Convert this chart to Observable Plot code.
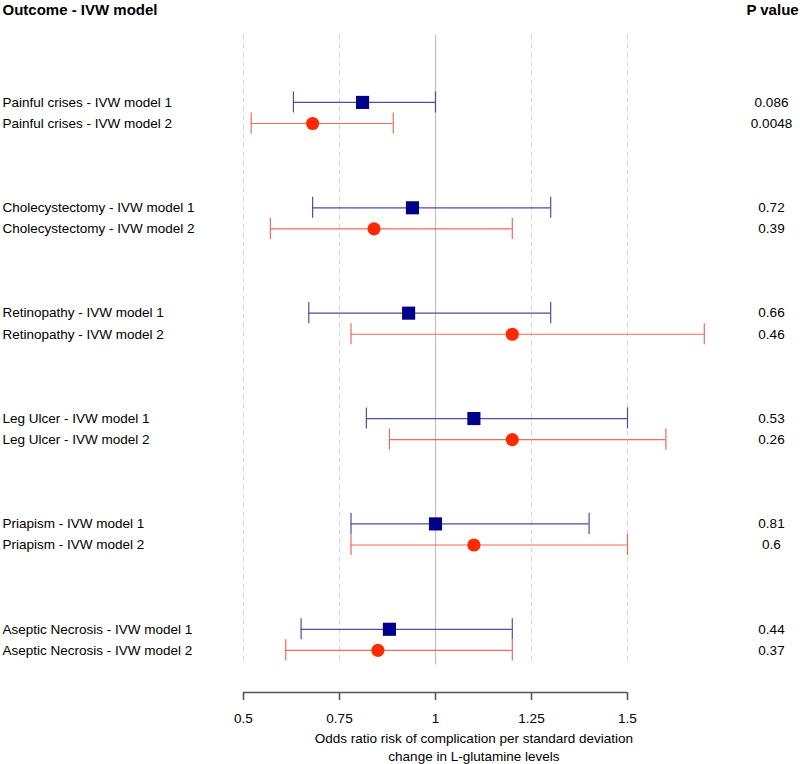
<!DOCTYPE html>
<html>
<head>
<meta charset="utf-8">
<script src="https://cdn.jsdelivr.net/npm/d3@7"></script>
<script src="https://cdn.jsdelivr.net/npm/@observablehq/plot@0.6"></script>
<style>
  html, body { margin: 0; padding: 0; background: #fff; }
  svg { display: block; }
</style>
</head>
<body>
<div id="chart"></div>
<script>
const outcomes = ["Painful crises", "Cholecystectomy", "Retinopathy", "Leg Ulcer", "Priapism", "Aseptic Necrosis"];
const model1OR = [0.81, 0.94, 0.93, 1.10, 1.00, 0.88];
const model1Lo = [0.63, 0.68, 0.67, 0.82, 0.78, 0.65];
const model1Hi = [1.00, 1.30, 1.30, 1.50, 1.40, 1.20];
const model1P  = ["0.086", "0.72", "0.66", "0.53", "0.81", "0.44"];
const model2OR = [0.68, 0.84, 1.20, 1.20, 1.10, 0.85];
const model2Lo = [0.52, 0.57, 0.78, 0.88, 0.78, 0.61];
const model2Hi = [0.89, 1.20, 1.70, 1.60, 1.50, 1.20];
const model2P  = ["0.0048", "0.39", "0.46", "0.26", "0.6", "0.37"];
const xTicks = [0.5, 0.75, 1, 1.25, 1.5];
const xTickLabels = ["0.5", "0.75", "1", "1.25", "1.5"];
const gridDashed = [0.5, 0.75, 1.25, 1.5];
const refLine = [1];
const axisTitle = "Odds ratio risk of complication per standard deviation\nchange in L-glutamine levels";

const rows = [];
outcomes.forEach((o, i) => {
  rows.push({label: `${o} - IVW model 1`, model: 1, pos: i * 5, or: model1OR[i], lo: model1Lo[i], hi: model1Hi[i], p: model1P[i]});
  rows.push({label: `${o} - IVW model 2`, model: 2, pos: i * 5 + 1, or: model2OR[i], lo: model2Lo[i], hi: model2Hi[i], p: model2P[i]});
});
const m1 = rows.filter(d => d.model === 1);
const m2 = rows.filter(d => d.model === 2);

const blueLine = "#4a4fa6", blueFill = "#00008b";
const redLine = "#f26a5a", redFill = "#ff2a00";
const gTop = -3.2, gBot = 26.7, axisY = 28;
const capH = 0.5;

const chart = Plot.plot({
  width: 800,
  height: 764,
  marginLeft: 243,
  marginRight: 173,
  marginTop: 33,
  marginBottom: 72,
  style: {fontFamily: "'Liberation Sans', Arial, Helvetica, sans-serif", fontSize: "13px", color: "#000", background: "#fff"},
  x: {type: "linear", domain: [0.5, 1.5], axis: null},
  y: {type: "linear", domain: [-3.27, 28], reverse: true, axis: null},
  marks: [
    Plot.ruleX(gridDashed, {x: d => d, y1: gTop, y2: gBot, stroke: "#d6d6d6", strokeWidth: 1, strokeDasharray: "5,4"}),
    Plot.ruleX(refLine, {x: d => d, y1: gTop, y2: gBot, stroke: "#c4c4c4", strokeWidth: 1.3}),
    // CI lines
    Plot.ruleY(m1, {y: "pos", x1: "lo", x2: "hi", stroke: blueLine, strokeWidth: 1.2}),
    Plot.ruleY(m2, {y: "pos", x1: "lo", x2: "hi", stroke: redLine, strokeWidth: 1.2}),
    Plot.ruleX(m1, {x: "lo", y1: d => d.pos - capH, y2: d => d.pos + capH, stroke: blueLine, strokeWidth: 1.2}),
    Plot.ruleX(m1, {x: "hi", y1: d => d.pos - capH, y2: d => d.pos + capH, stroke: blueLine, strokeWidth: 1.2}),
    Plot.ruleX(m2, {x: "lo", y1: d => d.pos - capH, y2: d => d.pos + capH, stroke: redLine, strokeWidth: 1.2}),
    Plot.ruleX(m2, {x: "hi", y1: d => d.pos - capH, y2: d => d.pos + capH, stroke: redLine, strokeWidth: 1.2}),
    // points
    Plot.dot(m1, {x: "or", y: "pos", symbol: "square", r: 7.4, fill: blueFill, stroke: "none"}),
    Plot.dot(m2, {x: "or", y: "pos", symbol: "circle", r: 6.6, fill: redFill, stroke: "none"}),
    // row labels
    Plot.text(rows, {y: "pos", text: "label", frameAnchor: "left", dx: -241, textAnchor: "start", fontSize: 13.5, fill: "#000"}),
    // p values
    Plot.text(rows, {y: "pos", text: "p", frameAnchor: "right", dx: 144, textAnchor: "middle", fontSize: 13.5, fill: "#000"}),
    // headers
    Plot.text(["Outcome - IVW model"], {text: d => d, frameAnchor: "top-left", dx: -241, dy: -29, textAnchor: "start", fontWeight: "bold", fontSize: 15, fill: "#000"}),
    Plot.text(["P value"], {text: d => d, frameAnchor: "top-right", dx: 145, dy: -29, textAnchor: "middle", fontWeight: "bold", fontSize: 15, fill: "#000"}),
    // axis
    Plot.ruleY([axisY], {y: d => d, x1: xTicks[0], x2: xTicks[xTicks.length - 1], stroke: "#555", strokeWidth: 1.6}),
    Plot.ruleX(xTicks, {x: d => d, y1: axisY, y2: axisY + 0.38, stroke: "#555", strokeWidth: 1.6}),
    Plot.text(xTicks, {x: d => d, y: axisY, dy: 26, text: (d, i) => xTickLabels[i], fontSize: 13.5, fill: "#000"}),
    Plot.text([axisTitle], {x: 1.1, y: axisY, dy: 54, text: d => d, lineHeight: 1.35, fontSize: 13.5, fill: "#000"}),
  ]
});
document.getElementById("chart").appendChild(chart);
</script>
</body>
</html>
